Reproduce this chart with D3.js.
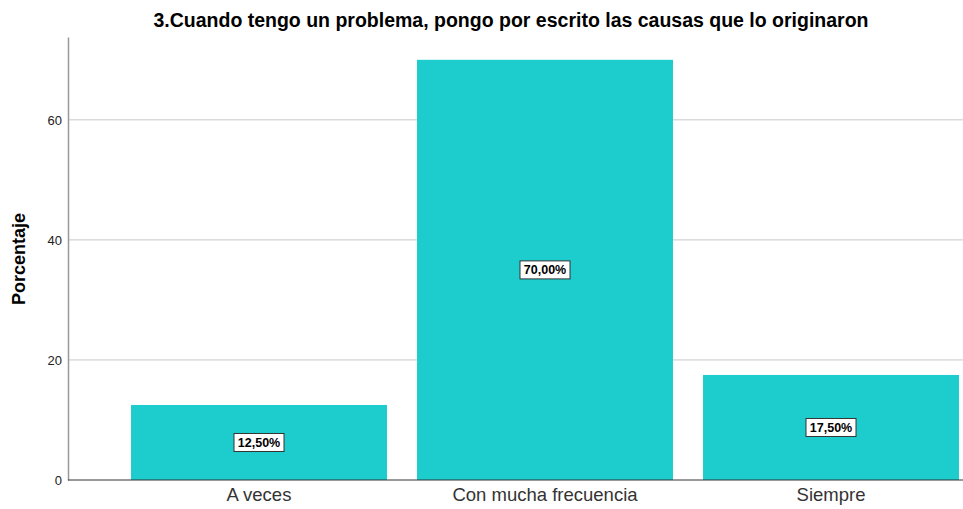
<!DOCTYPE html>
<html>
<head>
<meta charset="utf-8">
<script src="https://cdn.jsdelivr.net/npm/d3@7"></script>
<style>
  body { margin: 0; background: #fff; }
  text { font-family: "Liberation Sans", Arial, sans-serif; }
</style>
</head>
<body>
<svg id="chart"></svg>
<script>
const width = 963, height = 509;

// data
const categories = ["A veces", "Con mucha frecuencia", "Siempre"];
const values = [12.5, 70.0, 17.5];
const labels = ["12,50%", "70,00%", "17,50%"];
const yTicks = [0, 20, 40, 60];
const title = "3.Cuando tengo un problema, pongo por escrito las causas que lo originaron";

const svg = d3.select("#chart")
  .attr("width", width)
  .attr("height", height);

const x = d3.scaleBand()
  .domain(categories)
  .range([116, 974])
  .paddingInner(0.105)
  .paddingOuter(0.0525);

const y = d3.scaleLinear()
  .domain([0, 73.8])
  .range([480, 37]);

// gridlines
svg.append("g")
  .selectAll("line")
  .data(yTicks.filter(d => d > 0))
  .enter().append("line")
  .attr("x1", 68).attr("x2", 963)
  .attr("y1", d => y(d)).attr("y2", d => y(d))
  .attr("stroke", "#c8c8c8")
  .attr("stroke-width", 1);

// bars
svg.append("g")
  .selectAll("rect")
  .data(values)
  .enter().append("rect")
  .attr("x", (d, i) => x(categories[i]))
  .attr("width", x.bandwidth())
  .attr("y", d => y(d))
  .attr("height", d => y(0) - y(d))
  .attr("fill", "#1dcdcd");

// y axis
const yAxis = svg.append("g")
  .attr("transform", "translate(68,0)")
  .call(d3.axisLeft(y).tickValues(yTicks).tickSize(0).tickPadding(6));
yAxis.select(".domain").attr("stroke", "#999").attr("stroke-width", 1.5);
yAxis.selectAll("text")
  .style("font-size", "13px")
  .attr("fill", "#222");

// baseline
svg.append("line")
  .attr("x1", 68).attr("x2", 963)
  .attr("y1", y(0)).attr("y2", y(0))
  .attr("stroke", "#333")
  .attr("stroke-width", 1);

// x axis labels
const xAxis = svg.append("g")
  .attr("transform", `translate(0,${y(0)})`)
  .call(d3.axisBottom(x).tickSize(0).tickPadding(8));
xAxis.select(".domain").remove();
xAxis.selectAll("text")
  .style("font-size", "18.5px")
  .attr("fill", "#333");

// value labels in boxes
const lab = svg.append("g")
  .selectAll("g")
  .data(values)
  .enter().append("g")
  .attr("transform", (d, i) => `translate(${x(categories[i]) + x.bandwidth() / 2},${(y(d) + y(0)) / 2})`);

lab.append("rect")
  .attr("x", -25).attr("y", -9)
  .attr("width", 50).attr("height", 18)
  .attr("fill", "#fff")
  .attr("stroke", "#333")
  .attr("stroke-width", 1);

lab.append("text")
  .attr("text-anchor", "middle")
  .attr("dy", "0.36em")
  .style("font-size", "12.5px")
  .style("font-weight", "bold")
  .attr("fill", "#000")
  .text((d, i) => labels[i]);

// title
svg.append("text")
  .attr("x", 511)
  .attr("y", 27)
  .attr("text-anchor", "middle")
  .style("font-size", "19.5px")
  .style("font-weight", "bold")
  .attr("fill", "#000")
  .text(title);

// y axis title
svg.append("text")
  .attr("transform", "rotate(-90)")
  .attr("x", -259)
  .attr("y", 25)
  .attr("text-anchor", "middle")
  .style("font-size", "18px")
  .style("font-weight", "bold")
  .attr("fill", "#000")
  .text("Porcentaje");
</script>
</body>
</html>
